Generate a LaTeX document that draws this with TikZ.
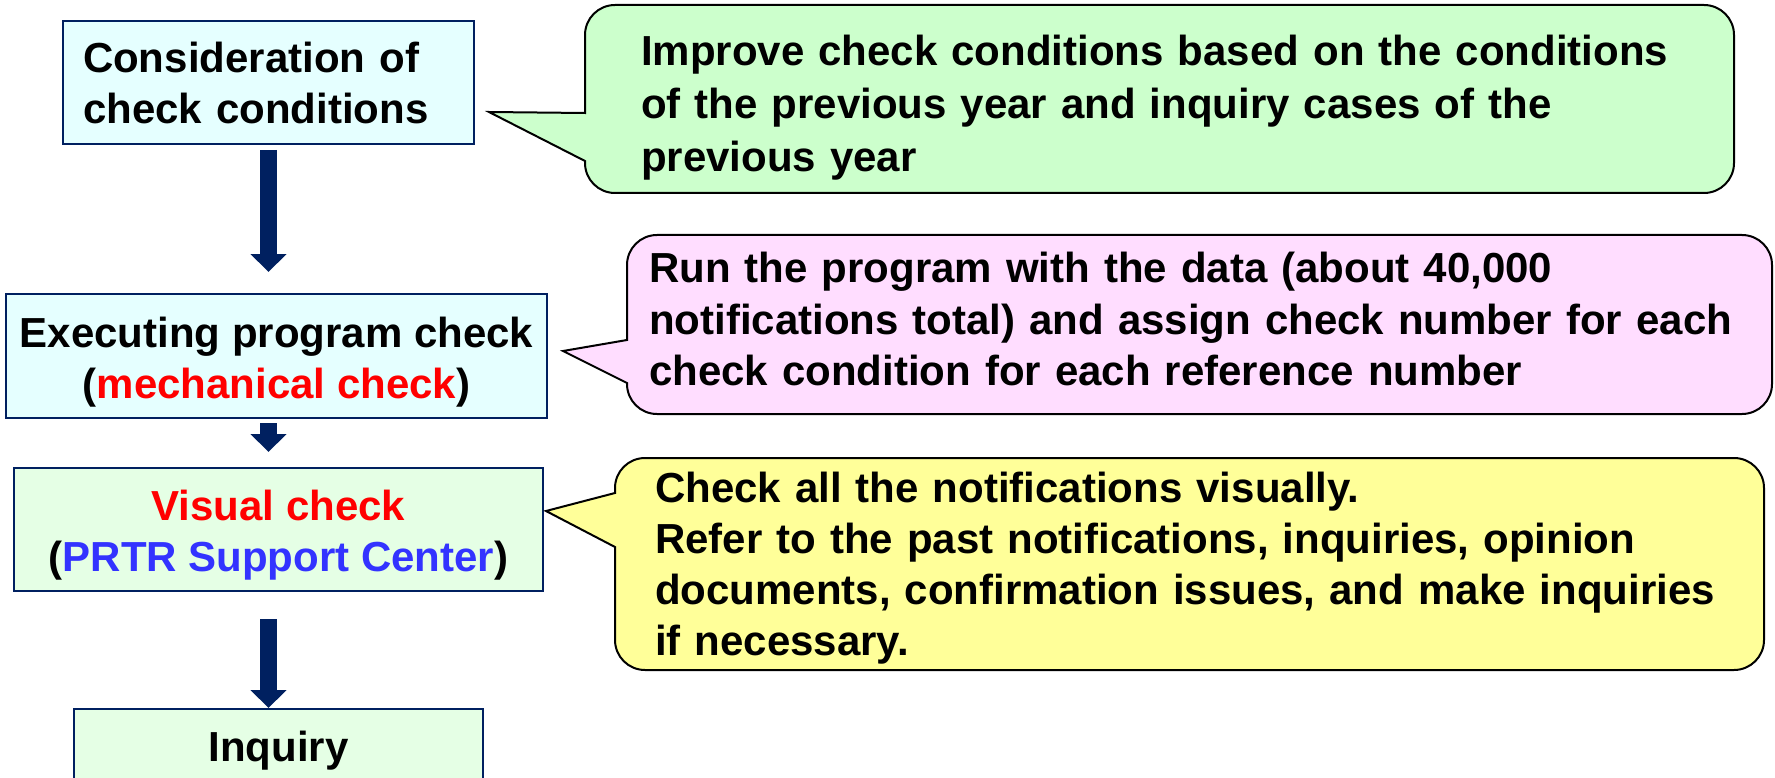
\documentclass[tikz,border=0pt]{standalone}
\usepackage{fontspec}
\setmainfont{Liberation Sans}
\usetikzlibrary{arrows.meta}

\definecolor{navy}{RGB}{0,32,96}
\definecolor{cyanfill}{RGB}{229,255,255}
\definecolor{mintfill}{RGB}{229,255,229}
\definecolor{greenbub}{RGB}{204,255,204}
\definecolor{pinkbub}{RGB}{255,221,255}
\definecolor{yellowbub}{RGB}{255,255,153}
\definecolor{txtred}{RGB}{255,0,0}
\definecolor{txtblue}{RGB}{51,51,255}

\newcommand{\bigfont}{\fontsize{42}{51}\selectfont\bfseries}

\tikzset{
  stepbox/.style={draw=navy, line width=2pt, inner sep=0pt, font=\bigfont, align=center},
  flowarrow/.style={draw=navy, line width=17pt, -{Triangle[width=35pt,length=18pt]}},
  bubble/.style={draw=black, line width=2pt},
  bubbletext/.style={anchor=base west, inner sep=0pt, font=\bigfont, align=left, text width=1120pt}
}

\begin{document}
\begin{tikzpicture}[x=1pt, y=1pt]
				\useasboundingbox (0,0) rectangle (1775,-778);
				% steps
				\node[stepbox, fill=cyanfill, minimum width=411pt, minimum height=123pt, text width=371pt, align=left] (cons) at (268.5,-82.5) {Consideration of\\check conditions};
				\node[stepbox, fill=cyanfill, minimum width=541pt, minimum height=124pt, text height=94pt] (exec) at (276.5,-356) {Executing program check\\(\textcolor{txtred}{mechanical check})};
				\node[stepbox, fill=mintfill, minimum width=529pt, minimum height=123pt, text height=92pt] (vis) at (278.5,-529.5) {\textcolor{txtred}{Visual check}\\(\textcolor{txtblue}{PRTR Support Center})};
				\node[stepbox, fill=mintfill, minimum width=409pt, minimum height=83pt] (inq) at (278.5,-750.5) {Inquiry};
				\draw[flowarrow, shorten <=5pt, shorten >=21pt] (cons.south) -- (cons.south |- exec.north);
				\draw[flowarrow, shorten <=4pt, shorten >=15pt] (exec.south -| cons.south) -- (vis.north -| cons.south);
				\draw[flowarrow, shorten <=27pt] (vis.south -| cons.south) -- (inq.north -| cons.south);
				% callouts
				\filldraw[bubble, fill=greenbub] (489,-112) -- (585,-113) -- (585,-35) arc[start angle=180, end angle=90, radius=30pt] -- (1704,-5) arc[start angle=90, end angle=0, radius=30pt] -- (1734,-163) arc[start angle=0, end angle=-90, radius=30pt] -- (615,-193) arc[start angle=270, end angle=180, radius=30pt] -- (585,-161) -- cycle;
				\filldraw[bubble, fill=pinkbub] (563,-351) -- (627,-340) -- (627,-265) arc[start angle=180, end angle=90, radius=30pt] -- (1742,-235) arc[start angle=90, end angle=0, radius=30pt] -- (1772,-384) arc[start angle=0, end angle=-90, radius=30pt] -- (657,-414) arc[start angle=270, end angle=180, radius=30pt] -- (627,-383) -- cycle;
				\filldraw[bubble, fill=yellowbub] (546,-511) -- (615,-493) -- (615,-488) arc[start angle=180, end angle=90, radius=30pt] -- (1734,-458) arc[start angle=90, end angle=0, radius=30pt] -- (1764,-640) arc[start angle=0, end angle=-90, radius=30pt] -- (645,-670) arc[start angle=270, end angle=180, radius=30pt] -- (615,-547) -- cycle;
				\node[bubbletext, font={\fontsize{42}{53}\selectfont\bfseries}] (imp) at (641,-66) {Improve check conditions based on the conditions\\of the previous year and inquiry cases of the\\previous year};
				\node[bubbletext, font={\fontsize{42}{52}\selectfont\bfseries}] (run) at (649,-282) {Run the program with the data (about 40,000\\notifications total) and assign check number for each\\check condition for each reference number};
				\node[bubbletext] (look) at (655,-502) {Check all the notifications visually.\\Refer to the past notifications, inquiries, opinion\\documents, confirmation issues, and make inquiries\\if necessary.};
\end{tikzpicture}
\end{document}
